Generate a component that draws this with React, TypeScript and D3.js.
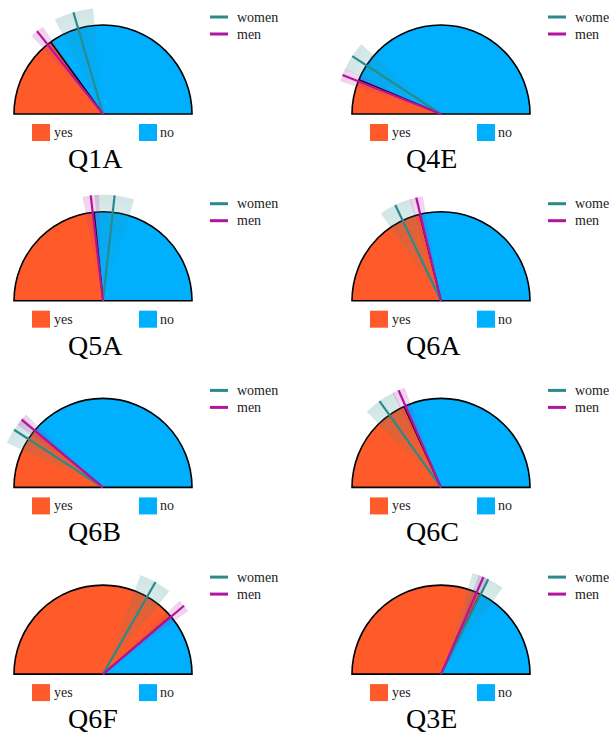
import React from "react";
import * as d3 from "d3";

const questions = ["Q1A", "Q4E", "Q5A", "Q6A", "Q6B", "Q6C", "Q6F", "Q3E"];
const overallYes = [0.3, 0.126, 0.468, 0.423, 0.222, 0.364, 0.775, 0.645];
const womenYes = [0.41, 0.184, 0.535, 0.358, 0.183, 0.303, 0.665, 0.647];
const womenCI = [0.06, 0.045, 0.06, 0.05, 0.045, 0.05, 0.05, 0.05];
const menYes = [0.286, 0.12, 0.463, 0.425, 0.221, 0.369, 0.777, 0.631];
const menCI = [0.022, 0.02, 0.025, 0.02, 0.02, 0.02, 0.02, 0.015];
const answerLabels = ["yes", "no"];
const groupLabels = ["women", "men"];

const YES = "#ff5a2a";
const NO = "#00b0ff";
const WOMEN = "#2b8a8c";
const MEN = "#b3139f";
const R = 89;
const RL = 106;
const SERIF = "Liberation Serif";

const angle = d3.scaleLinear().domain([0, 1]).range([-Math.PI / 2, Math.PI / 2]);

function Panel({ i }: { i: number }) {
  const col = i % 2;
  const row = Math.floor(i / 2);
  const cx = 103 + col * 338;
  const cy = 114 + row * 186.7;
  const arc = d3.arc<any>().innerRadius(0).outerRadius(R);
  const wedge = d3.arc<any>().innerRadius(0).outerRadius(RL);
  const split = angle(overallYes[i]);
  const groups = [
    { v: womenYes[i], ci: womenCI[i], c: WOMEN, g: "gw" },
    { v: menYes[i], ci: menCI[i], c: MEN, g: "gm" },
  ];
  const pt = (a: number, r: number) => [r * Math.sin(a), -r * Math.cos(a)];
  const sp = pt(split, R);
  return (
    <g>
      <g transform={`translate(${cx},${cy})`}>
        <path d={arc({ startAngle: -Math.PI / 2, endAngle: split })!} fill={YES} />
        <path d={arc({ startAngle: split, endAngle: Math.PI / 2 })!} fill={NO} />
        <path
          d={arc({ startAngle: -Math.PI / 2, endAngle: Math.PI / 2 })! + "Z"}
          fill="none"
          stroke="#000"
          strokeWidth={1.6}
        />
        <line x1={0} y1={0} x2={sp[0]} y2={sp[1]} stroke="#000" strokeWidth={1.6} />
        {groups.map((g, k) => (
          <path
            key={"w" + k}
            d={wedge({ startAngle: angle(g.v - g.ci), endAngle: angle(g.v + g.ci) })!}
            fill={`url(#${g.g})`}
          />
        ))}
        {groups.map((g, k) => {
          const p = pt(angle(g.v), RL);
          return <line key={"l" + k} x1={0} y1={0} x2={p[0]} y2={p[1]} stroke={g.c} strokeWidth={2.2} />;
        })}
      </g>
      <rect x={cx - 71} y={cy + 10} width={18} height={17} fill={YES} />
      <text x={cx - 49} y={cy + 23} fontFamily={SERIF} fontSize={14} fill="#222">
        {answerLabels[0]}
      </text>
      <rect x={cx + 36} y={cy + 10} width={18} height={17} fill={NO} />
      <text x={cx + 57} y={cy + 23} fontFamily={SERIF} fontSize={14} fill="#222">
        {answerLabels[1]}
      </text>
      <text x={cx - 35} y={cy + 54} fontFamily={SERIF} fontSize={28} fill="#000">
        {questions[i]}
      </text>
      {groupLabels.map((lab, k) => (
        <g key={lab}>
          <line
            x1={cx + 107}
            x2={cx + 125}
            y1={cy - 97 + k * 17}
            y2={cy - 97 + k * 17}
            stroke={k === 0 ? WOMEN : MEN}
            strokeWidth={3}
          />
          <text x={cx + 134} y={cy - 92.5 + k * 17} fontFamily={SERIF} fontSize={14} fill="#222">
            {lab}
          </text>
        </g>
      ))}
    </g>
  );
}

export default function App() {
  return (
    <svg
      width={609}
      height={735}
      style={{ position: "absolute", left: 0, top: 0, background: "#fff" }}
    >
      <defs>
        <radialGradient id="gw" gradientUnits="userSpaceOnUse" cx={0} cy={0} r={RL}>
          <stop offset="0" stopColor={WOMEN} stopOpacity={0} />
          <stop offset="0.6" stopColor={WOMEN} stopOpacity={0.12} />
          <stop offset="1" stopColor={WOMEN} stopOpacity={0.22} />
        </radialGradient>
        <radialGradient id="gm" gradientUnits="userSpaceOnUse" cx={0} cy={0} r={RL}>
          <stop offset="0" stopColor={MEN} stopOpacity={0} />
          <stop offset="0.6" stopColor={MEN} stopOpacity={0.1} />
          <stop offset="1" stopColor={MEN} stopOpacity={0.2} />
        </radialGradient>
      </defs>
      {questions.map((q, i) => (
        <Panel key={q} i={i} />
      ))}
    </svg>
  );
}
